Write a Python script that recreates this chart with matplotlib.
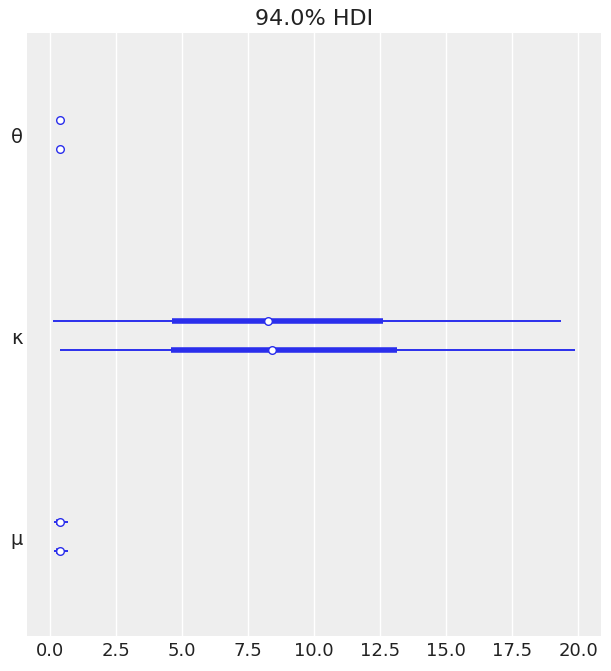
import numpy as np
import matplotlib.pyplot as plt

# variables, bottom to top
var_names = ['μ', 'κ', 'θ']
# per variable: [chain0, chain1] -> (hdi94 low, hdi94 high, q25, q75, median)
hdi_low = [[0.15, 0.15], [0.11, 0.38], [0.36, 0.36]]
hdi_high = [[0.68, 0.68], [19.36, 19.89], [0.40, 0.40]]
iqr_low = [[0.25, 0.25], [4.62, 4.58], [0.37, 0.37]]
iqr_high = [[0.50, 0.50], [12.61, 13.15], [0.39, 0.39]]
medians = [[0.40, 0.40], [8.26, 8.41], [0.38, 0.38]]
xticks = [0.0, 2.5, 5.0, 7.5, 10.0, 12.5, 15.0, 17.5, 20.0]

blue = '#2a2eec'
chain_offset = [0.072, -0.072]

fig, ax = plt.subplots(figsize=(6.11, 6.71), dpi=100)
fig.subplots_adjust(left=0.044, right=0.984, top=0.951, bottom=0.052)
ax.set_facecolor('#eeeeee')

for i in range(len(var_names)):
    for c in range(2):
        y = i + chain_offset[c] - 0.004
        ax.plot([hdi_low[i][c], hdi_high[i][c]], [y, y], color=blue, lw=1.4, solid_capstyle='butt', zorder=2)
        ax.plot([iqr_low[i][c], iqr_high[i][c]], [y, y], color=blue, lw=4, solid_capstyle='butt', zorder=3)
        ax.plot(medians[i][c], y, 'o', color=blue, markerfacecolor='white', markersize=5.5, markeredgewidth=1, zorder=4)

ax.set_xlim(-0.87, 20.87)
ax.set_ylim(-0.5, 2.5)
ax.set_yticks([i - 0.01 for i in range(len(var_names))])
ax.set_yticklabels(var_names)
ax.set_xticks(xticks)
ax.set_xticklabels(['%.1f' % t for t in xticks])
ax.grid(axis='x', color='white', lw=1)
ax.set_axisbelow(True)
for s in ax.spines.values():
    s.set_visible(False)
ax.tick_params(length=0, colors='#222222')
ax.tick_params(axis='x', pad=4, labelsize=13)
ax.tick_params(axis='y', pad=3, labelsize=14)
ax.set_title('94.0% HDI', fontsize=16, color='#222222')

plt.savefig('out.png')
